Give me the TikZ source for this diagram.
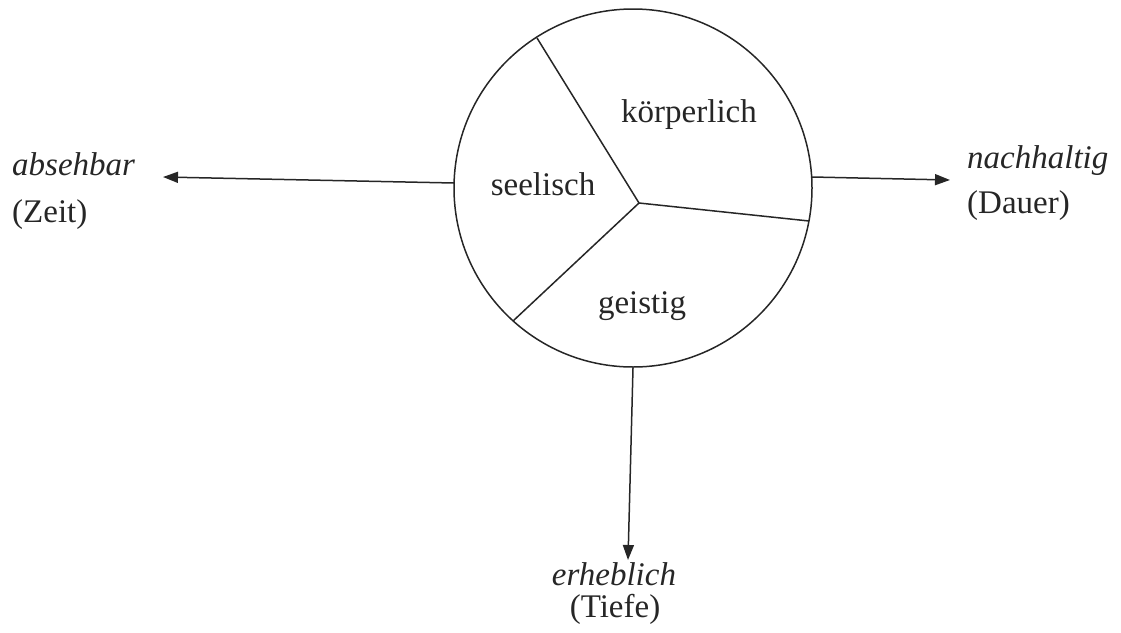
\documentclass[tikz,border=0pt]{standalone}
\usepackage{fontspec}
\setmainfont{Liberation Serif}
\usetikzlibrary{arrows.meta}
\begin{document}
\begin{tikzpicture}[x=1pt,y=-1pt,
  line/.style={line width=1.5pt,draw=black!85},
  arr/.style={line, -{Triangle[length=15pt,width=11pt]}},
  lbl/.style={inner sep=0pt,font=\fontsize{33}{38}\selectfont,text=black!85}]
\useasboundingbox (0,0) rectangle (1121,632);
\node[line, circle, minimum size=358pt, inner sep=0pt] (c) at (633,188) {};
\coordinate (o) at (639,203);
\coordinate (s1) at (537,38);
\coordinate (s2) at (809,221);
\coordinate (s3) at (513,321);
\draw[line] (o) -- (s1);
\draw[line] (o) -- (s2);
\draw[line] (o) -- (s3);
\node[lbl, anchor=base] (k) at (689,122) {körperlich};
\node[lbl, anchor=base] (s) at (543,195) {seelisch};
\node[lbl, anchor=base] (g) at (642,313) {geistig};
% left
\coordinate (lstart) at (454,183);
\coordinate (ltip) at (163,177);
\draw[arr] (lstart) -- (ltip);
\node[lbl, anchor=base west] (a1) at (12,175) {\itshape absehbar};
\node[lbl, anchor=base west] (a2) at (12,222) {(Zeit)};
% right
\coordinate (rstart) at (812,177);
\coordinate (rtip) at (950,180);
\draw[arr] (rstart) -- (rtip);
\node[lbl, anchor=base west] (n1) at (967,168) {\itshape nachhaltig};
\node[lbl, anchor=base west] (n2) at (967,213) {(Dauer)};
% bottom
\coordinate (bstart) at (633,368);
\coordinate (btip) at (628,560);
\draw[arr] (bstart) -- (btip);
\node[lbl, anchor=base] (e1) at (614,585) {\itshape erheblich};
\node[lbl, anchor=base] (e2) at (615,617) {(Tiefe)};
\end{tikzpicture}
\end{document}
